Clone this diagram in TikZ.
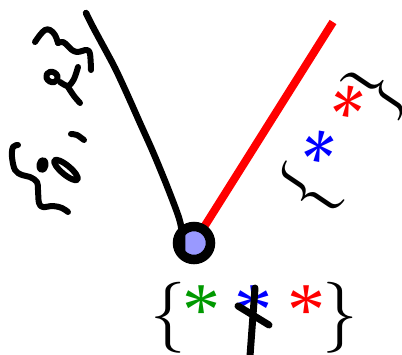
\documentclass[tikz,border=0pt]{standalone}
\usepackage{graphicx}
\usepackage{fontspec}
\newfontfamily\starfont{Liberation Serif}
\definecolor{lav}{RGB}{153,153,255}
\definecolor{sgreen}{RGB}{0,153,0}
\definecolor{sblue}{RGB}{0,0,255}
\definecolor{sred}{RGB}{255,0,0}
\newcommand{\bigglyph}[1]{\scalebox{7.1}{$#1$}}
\begin{document}
\begin{tikzpicture}[x=1pt,y=-1pt,
  glyph/.style={inner sep=0pt, outer sep=0pt},
  star/.style={inner sep=0pt, outer sep=0pt, anchor=base, font=\starfont\fontsize{76}{76}\selectfont},
  scribble/.style={line width=6pt, line cap=round, line join=round},
  heavy/.style={line width=7pt, line cap=round, line join=round},
  vertex/.style={circle, draw=black, line width=9.5pt, fill=lav, minimum size=33pt, inner sep=0pt},
  redline/.style={draw=sred, line width=8pt},
  blackline/.style={draw=black, line width=6.5pt, line cap=round}]
\useasboundingbox (0,0) rectangle (402,354);

% vertex and lines
\coordinate (vc) at (194,243);
\coordinate (rtop) at (333,22);
\coordinate (btop) at (86,13);
\coordinate (bend) at (182,251);
\draw[redline] (rtop) -- (vc);
\node[vertex] (v) at (vc) {};
\draw[blackline] plot[smooth, tension=0.5] coordinates {(btop) (93,27) (100,40) (115,68) (128,96) (140,123) (153,152) (167,186) (179,218) (182,234) (bend)};

% left label scribble
\draw[scribble] plot[smooth, tension=0.6] coordinates {(35,42) (40,35) (45,30) (50,30) (55,35) (58,43)};
\draw[scribble] plot[smooth, tension=0.6] coordinates {(58,43) (63,42) (68,46) (72,50) (77,52) (82,51) (87,50) (90,54) (91,70)};
\draw[scribble, shift={(52,77)}, rotate=-30] (0,0) ellipse [x radius=6pt, y radius=5pt];
\draw[scribble] plot[smooth] coordinates {(78,67) (74,79) (68,86) (60,82)};
\draw[scribble] plot[smooth] coordinates {(68,87) (74,96) (80,103)};
\draw[scribble] plot[smooth] coordinates {(71,134) (77,135) (84,140)};
\draw[scribble] plot[smooth, tension=0.6] coordinates {(18,145) (13,147) (12,157) (15,170) (22,175) (30,177) (37,182) (38,190) (39,203) (43,207) (53,206) (62,208) (68,212)};
\draw[scribble, shift={(42.5,165)}, rotate=-10] (0,0) ellipse [x radius=3pt, y radius=5pt];
\draw[scribble, shift={(66,170)}, rotate=-40] (0,0) ellipse [x radius=15pt, y radius=4.5pt];

% right label (rotated)
\node[glyph, rotate=56] (rl) at (309,191) {\bigglyph{\{}};
\node[star, rotate=56, text=sblue] (rb) at (349.5,167.1) {*};
\node[star, rotate=56, text=sred] (rr) at (378.5,122.1) {*};
\node[glyph, rotate=56] (rrb) at (376.5,91) {\bigglyph{\}}};

% bottom label
\node[glyph] (bl) at (168,318) {\bigglyph{\{}};
\node[star, text=sgreen] (bg) at (201.5,335.7) {*};
\node[star, text=sblue] (bb) at (253.5,335.7) {*};
\node[star, text=sred] (br) at (306.5,335.7) {*};
\node[glyph] (brb) at (340,318) {\bigglyph{\}}};

% cross over blue star
\draw[heavy] (255,288) -- (250,356);
\draw[heavy] (238,306) -- (269,325);
\end{tikzpicture}
\end{document}
